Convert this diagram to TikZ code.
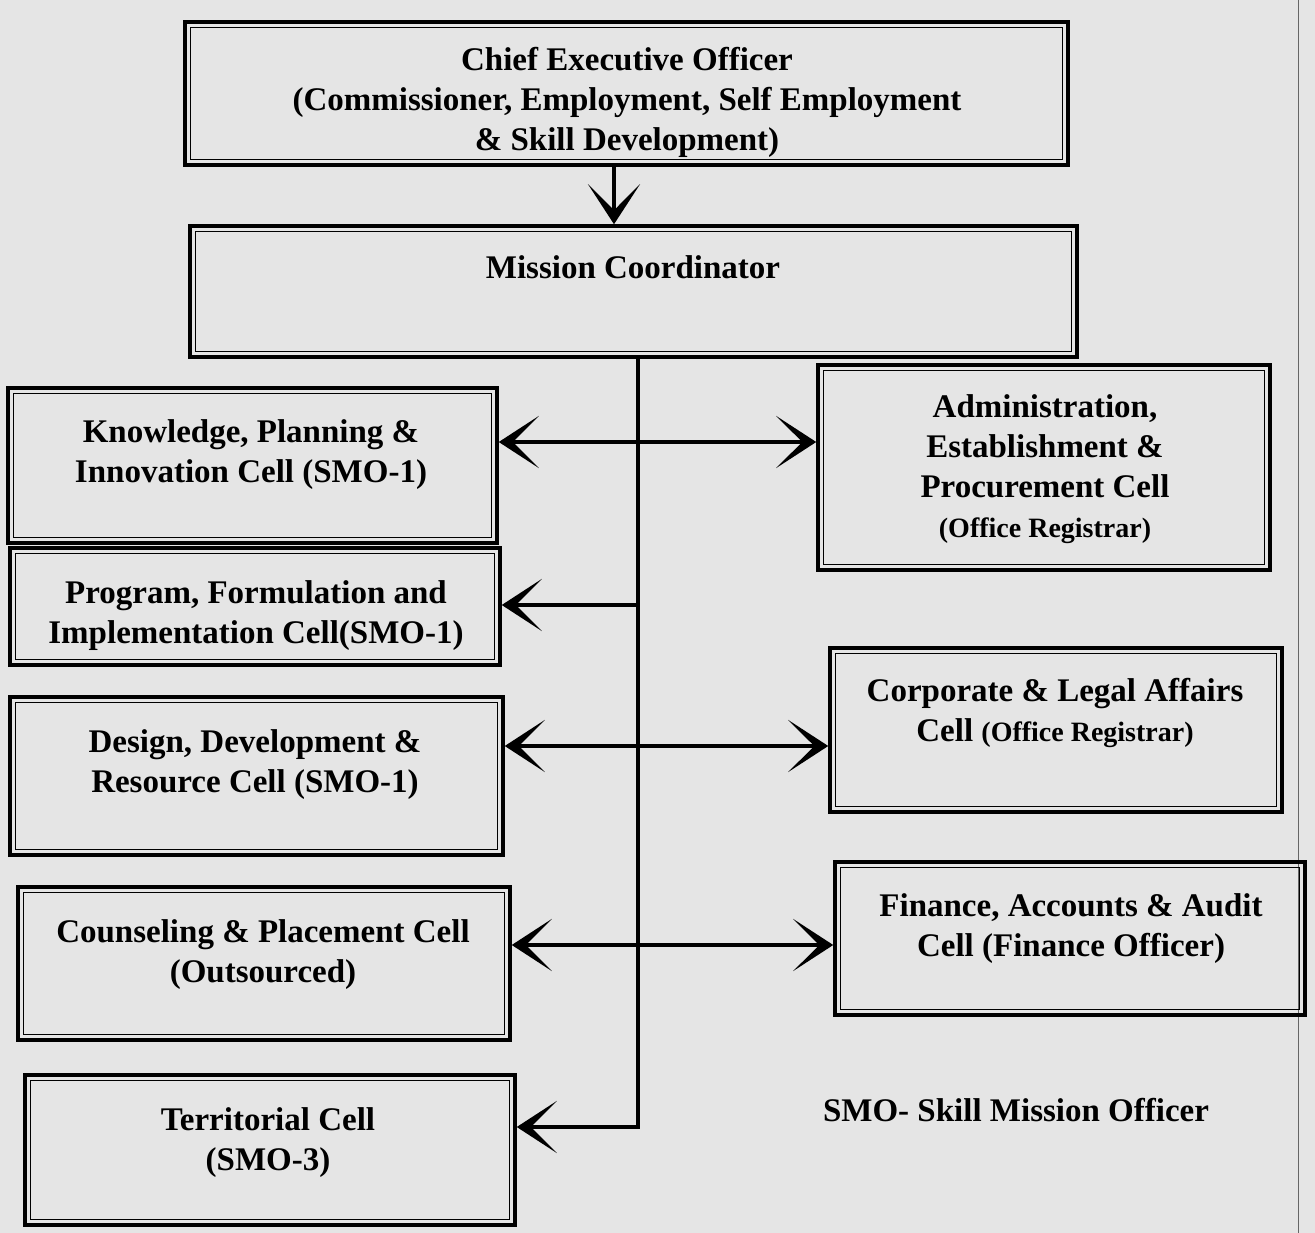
\documentclass[tikz,border=0pt]{standalone}
\usepackage{fontspec}
\setmainfont{Liberation Serif}
\usetikzlibrary{arrows.meta,calc}
\newcommand\mkcell[5]{%
  \node[boxshape, minimum width={(#4)-(#2)}, minimum height={(#5)-(#3)}] (#1) at ({((#2)+(#4))/2},{-((#3)+(#5))/2}) {};
  \draw[innerline] ([shift={(7,-7)}]#1.north west) rectangle ([shift={(-7,7)}]#1.south east);}
\begin{document}
\begin{tikzpicture}[x=1pt,y=1pt,
  boxshape/.style={draw, line width=3.5pt, rectangle, inner sep=0pt},
  innerline/.style={line width=1.3pt},
  lbl/.style={font=\bfseries\fontsize{33}{40}\selectfont, align=center, inner sep=0pt},
  conn/.style={line width=4.5pt},
  arr/.tip={Stealth[length=40pt 0,width=52pt 0,inset=26pt 0]}]
\fill[black!10] (0,0) rectangle (1315,-1233);
\useasboundingbox (0,0) rectangle (1315,-1233);
\draw[line width=1pt, black!60] (1298,0) -- (1298,-1233);
% boxes
\mkcell{ceo}{185}{22}{1068}{165}
\mkcell{mc}{190}{226}{1077}{357}
\mkcell{kpi}{8}{388}{497}{543}
\mkcell{pfi}{10}{548}{500}{665}
\mkcell{ddr}{10}{697}{503}{855}
\mkcell{cpc}{18}{887}{510}{1040}
\mkcell{tc}{25}{1075}{515}{1225}
\mkcell{aep}{818}{365}{1270}{570}
\mkcell{cla}{830}{648}{1282}{812}
\mkcell{faa}{835}{862}{1305}{1015}
% texts
\node[lbl] (ceoT) at (627,-102) {Chief Executive Officer\\(Commissioner, Employment, Self Employment\\\& Skill Development)};
\node[lbl] (mcT) at (633,-267) {Mission Coordinator};
\node[lbl] (kpiT) at (251,-455) {Knowledge, Planning \&\\Innovation Cell (SMO-1)};
\node[lbl] (pfiT) at (256,-616) {Program, Formulation and\\Implementation Cell(SMO-1)};
\node[lbl] (ddrT) at (255,-765) {Design, Development \&\\Resource Cell (SMO-1)};
\node[lbl] (cpcT) at (263,-955) {Counseling \& Placement Cell\\(Outsourced)};
\node[lbl] (tcT) at (268,-1143) {Territorial Cell\\(SMO-3)};
\node[lbl] (aepT) at (1045,-469) {Administration,\\Establishment \&\\Procurement Cell\\{\fontsize{28}{40}\selectfont(Office Registrar)}};
\node[lbl] (claT) at (1055,-713) {Corporate \& Legal Affairs\\Cell {\fontsize{28}{40}\selectfont(Office Registrar)}};
\node[lbl] (faaT) at (1071,-929) {Finance, Accounts \& Audit\\Cell (Finance Officer)};
\node[lbl] (note) at (1016,-1110) {SMO- Skill Mission Officer};
% connectors
\coordinate (ca) at (614,0);
\coordinate (tt) at (638,0);
\coordinate (tend) at (638,-1127);
\coordinate (y1) at (0,-442);
\coordinate (y2) at (0,-605);
\coordinate (y3) at (0,-746);
\coordinate (y4) at (0,-945);
\draw[conn,-arr] (ceo.south -| ca) -- (mc.north -| ca);
\draw[conn,-arr] (mc.south -| tt) -- (tend) -- (tc.east |- tend);
\draw[conn,arr-arr] (kpi.east |- y1) -- (aep.west |- y1);
\draw[conn,-arr] (tt |- y2) -- (pfi.east |- y2);
\draw[conn,arr-arr] (ddr.east |- y3) -- (cla.west |- y3);
\draw[conn,arr-arr] (cpc.east |- y4) -- (faa.west |- y4);
\end{tikzpicture}
\end{document}
